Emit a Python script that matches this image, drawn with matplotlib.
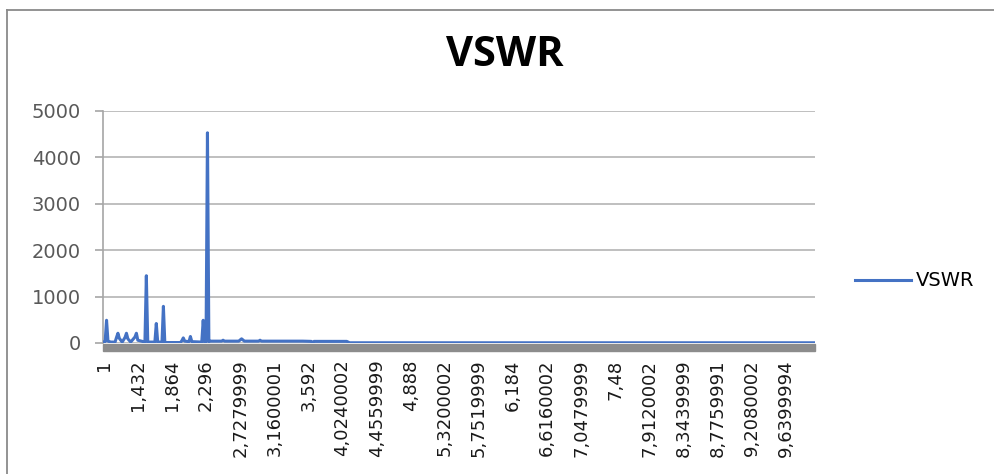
import matplotlib
matplotlib.use("Agg")
import matplotlib.pyplot as plt
from matplotlib.lines import Line2D
from matplotlib.patches import Rectangle

# frequency (GHz) / VSWR vertices
freq_ghz = [
    1.000, 1.018, 1.036, 1.054, 1.090, 1.144, 1.162, 1.180, 1.198, 1.234,
    1.270, 1.288, 1.306, 1.342, 1.396, 1.414, 1.432, 1.522, 1.540, 1.558,
    1.648, 1.666, 1.684, 1.738, 1.756, 1.774, 1.972, 1.990, 2.008, 2.026,
    2.080, 2.098, 2.116, 2.242, 2.260, 2.278, 2.296, 2.314, 2.332, 2.350,
    2.494, 2.512, 2.530, 2.710, 2.746, 2.782, 2.962, 2.980, 2.998, 3.520,
    3.628, 3.646, 3.664, 4.078, 4.114, 10.000,
]
vswr = [
    20, 30, 490, 40, 20, 20, 120, 210, 100, 20,
    120, 210, 90, 20, 130, 210, 60, 20, 1450, 20,
    20, 420, 20, 20, 790, 10, 10, 50, 110, 40,
    30, 140, 30, 20, 490, 20, 20, 4530, 30, 40,
    40, 60, 40, 40, 90, 40, 40, 60, 40, 40,
    35, 0, 35, 35, 5, 5,
]

tick_labels = [
    "1", "1,432", "1,864", "2,296", "2,7279999", "3,1600001", "3,592",
    "4,0240002", "4,4559999", "4,888", "5,3200002", "5,7519999", "6,184",
    "6,6160002", "7,0479999", "7,48", "7,9120002", "8,3439999", "8,7759991",
    "9,2080002", "9,6399994",
]
y_ticks = [0, 1000, 2000, 3000, 4000, 5000]

W, H = 995, 474
fig = plt.figure(figsize=(W / 100, H / 100), dpi=100)
ax = fig.add_axes([103 / W, 131 / H, 712 / W, 232 / H])

ax.plot(freq_ghz, vswr, color="#4472C4", lw=2.2, label="VSWR", zorder=3,
        solid_joinstyle="round")

ax.set_xlim(0.991, 10.009)
ax.set_ylim(0, 5000)
ax.set_yticks(y_ticks)
ax.set_yticklabels([str(v) for v in y_ticks], fontsize=14, color="#595959",
                   family="DejaVu Sans")
ax.yaxis.grid(True, color="#b4b4b4", lw=1.2)
ax.set_axisbelow(True)

tick_pos = [float(s.replace(",", ".")) for s in tick_labels]
ax.set_xticks(tick_pos)
ax.set_xticklabels(tick_labels, rotation=90, fontsize=13, color="#1a1a1a",
                   family="DejaVu Sans")
ax.tick_params(axis="x", length=0, pad=12)
ax.tick_params(axis="y", length=6, width=1.2, color="#a6a6a6", pad=10)

for s in ["top", "right", "bottom"]:
    ax.spines[s].set_visible(False)
ax.spines["left"].set_color("#a6a6a6")
ax.spines["left"].set_linewidth(1.2)

# grey floor band under the category axis
ax.add_patch(Rectangle((0, -0.034), 1, 0.03, transform=ax.transAxes,
                       color="#8c8c8c", clip_on=False, zorder=2))

fig.text(505 / W, 1 - 56 / H, "VSWR", ha="center", va="center",
         fontsize=30, weight="bold", family="Open Sans")

fig.legend(loc="center left", bbox_to_anchor=(855 / W, 1 - 281 / H),
           bbox_transform=fig.transFigure, frameon=False, borderpad=0,
           borderaxespad=0, handlelength=2.9, handletextpad=0.25,
           prop={"family": "DejaVu Sans", "size": 14})

# outer border (only top and left are visible in the crop)
fig.add_artist(Line2D([7 / W, 1], [1 - 9.5 / H, 1 - 9.5 / H], color="#8a8a8a",
                      lw=1.3, transform=fig.transFigure))
fig.add_artist(Line2D([7 / W, 7 / W], [0, 1 - 9.5 / H], color="#8a8a8a",
                      lw=1.3, transform=fig.transFigure))

fig.savefig("out.png", dpi=100)
